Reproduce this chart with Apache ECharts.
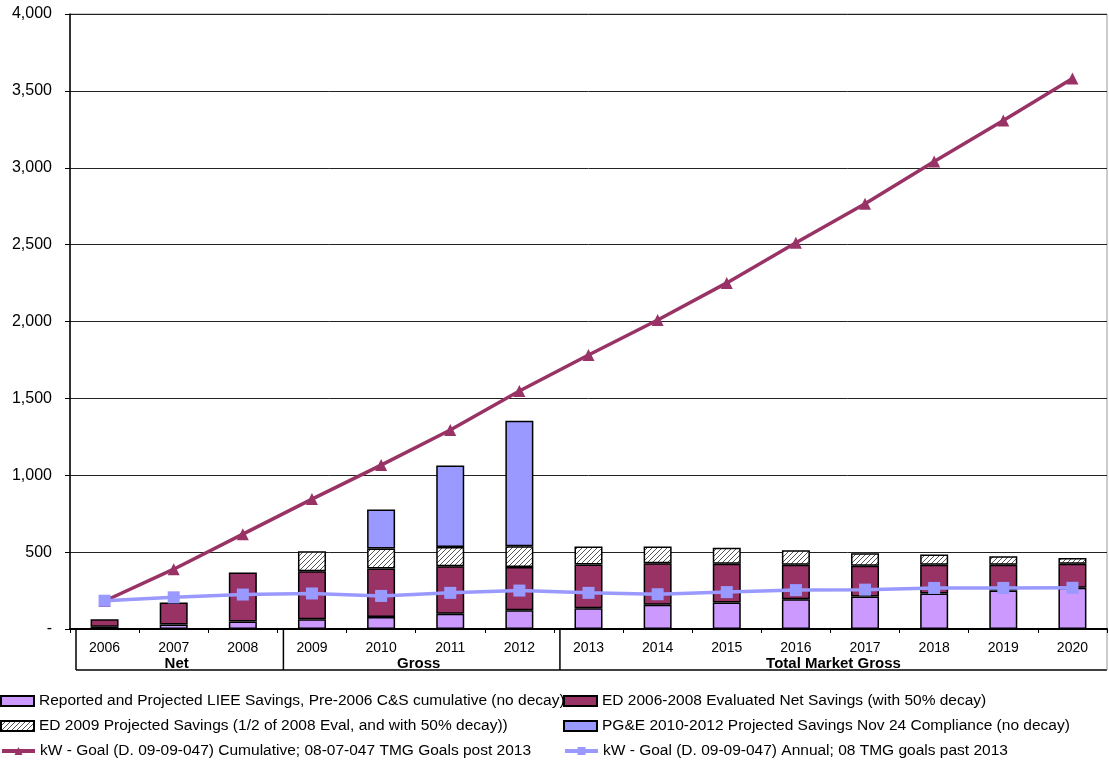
<!DOCTYPE html>
<html>
<head>
<meta charset="utf-8">
<script src="https://cdn.jsdelivr.net/npm/echarts@6/dist/echarts.min.js"></script>
<style>
html,body{margin:0;padding:0;background:#fff;}
#c{width:1109px;height:761px;}
</style>
</head>
<body>
<div id="c"></div>
<script>
var years = ['2006','2007','2008','2009','2010','2011','2012','2013','2014','2015','2016','2017','2018','2019','2020'];
var groupNames = ['Net','Gross','Total Market Gross'];
var groupSizes = [3,4,8];

var liee     = [15, 29, 48, 63, 78, 100, 122, 135, 158, 173, 194, 212, 231, 251, 268];
var edNet    = [48, 143, 319, 313, 315, 308, 282, 285, 269, 252, 224, 200, 187, 167, 157];
var ed2009   = [null, null, null, 130, 131, 126, 135, 117, 110, 104, 94, 80, 67, 55, 36];
var pge      = [null, null, null, null, 254, 530, 816, null, null, null, null, null, null, null, null];
var goalCum  = [182, 389, 617, 845, 1066, 1294, 1548, 1782, 2010, 2251, 2512, 2766, 3040, 3307, 3581];
var goalAnn  = [184, 206, 224, 231, 215, 235, 250, 235, 226, 240, 253, 256, 267, 267, 268];

var names = [
  'Reported and Projected LIEE Savings, Pre-2006 C&S cumulative (no decay)',
  'ED 2006-2008 Evaluated Net Savings (with 50% decay)',
  'ED 2009 Projected Savings (1/2 of 2008 Eval, and with 50% decay))',
  'PG&E 2010-2012 Projected Savings Nov 24 Compliance (no decay)',
  'kW - Goal (D. 09-09-047) Cumulative; 08-07-047 TMG Goals post 2013',
  'kW - Goal (D. 09-09-047) Annual; 08 TMG goals past 2013'
];

// hatch pattern
var pc = document.createElement('canvas');
pc.width = 5; pc.height = 5;
var pctx = pc.getContext('2d');
pctx.fillStyle = '#fff';
pctx.fillRect(0,0,5,5);
pctx.strokeStyle = '#555';
pctx.lineWidth = 1;
pctx.beginPath();
pctx.moveTo(-1,6); pctx.lineTo(6,-1);
pctx.moveTo(-1,1); pctx.lineTo(1,-1);
pctx.moveTo(4,6); pctx.lineTo(6,4);
pctx.stroke();

var FONT = '"Liberation Sans", Arial, sans-serif';
var chart = echarts.init(document.getElementById('c'));

function bar(i, data, color){
  return {type:'bar', stack:'s', barWidth:28, name:names[i], data:data,
    itemStyle:{color:color, borderColor:'#000', borderWidth:1.5}};
}

var legendPos = [[0,693],[563,693],[0,718],[563,718],[0,743],[563,743]];
var legends = names.map(function(n, i){
  var item = i < 4 ? {name:n, icon:'rect'} : {name:n, lineStyle:{width:4}};
  return {orient:'horizontal', left:legendPos[i][0], top:legendPos[i][1], padding:0,
    itemWidth:33, itemHeight:10, itemGap:0,
    textStyle:{fontSize:15.5, color:'#000', fontFamily:FONT},
    data:[item]};
});

var option = {
  animation:false,
  textStyle:{fontFamily:FONT},
  grid:{left:70, right:2, top:14, bottom:132, show:true, borderColor:'#999', borderWidth:1},
  xAxis:{type:'category', data:years,
    axisLine:{lineStyle:{color:'#000', width:2}},
    axisTick:{show:true, length:4, lineStyle:{color:'#000'}},
    axisLabel:{color:'#000', fontSize:14, fontFamily:FONT, margin:12}},
  yAxis:{type:'value', min:0, max:4000, interval:500,
    axisLine:{show:true, lineStyle:{color:'#000', width:1.5}},
    axisTick:{show:true, length:5, lineStyle:{color:'#000'}},
    axisLabel:{color:'#000', fontSize:16, fontFamily:FONT, margin:18,
      formatter:function(v){ return v===0 ? '-' : v.toLocaleString('en-US'); }},
    splitLine:{lineStyle:{color:'#222', width:1}}},
  legend:legends,
  series:[
    bar(0, liee, '#CC99FF'),
    bar(1, edNet, '#993366'),
    bar(2, ed2009, {image:pc, repeat:'repeat'}),
    bar(3, pge, '#9999FF'),
    {type:'line', name:names[4], data:goalCum, z:5, symbol:'triangle', symbolSize:12,
     lineStyle:{color:'#993366', width:3.5}, itemStyle:{color:'#993366'}},
    {type:'line', name:names[5], data:goalAnn, z:6, symbol:'rect', symbolSize:12,
     lineStyle:{color:'#9999FF', width:3.5}, itemStyle:{color:'#9999FF'}}
  ]
};
chart.setOption(option);

// group table under the category axis
function drawGroups(){
  var c0 = chart.convertToPixel({xAxisIndex:0}, years[0]);
  var c1 = chart.convertToPixel({xAxisIndex:0}, years[1]);
  var w = c1 - c0;
  var axisY = chart.convertToPixel({yAxisIndex:0}, 0);
  var bottomY = axisY + 41;
  var els = [];
  var start = 0;
  var rightX = chart.getWidth() - 2;
  var leftX = c0 - w/2 + 6;
  els.push({type:'line', shape:{x1:leftX, y1:axisY, x2:leftX, y2:bottomY}, style:{stroke:'#000', lineWidth:1.5}});
  els.push({type:'line', shape:{x1:leftX, y1:bottomY, x2:rightX, y2:bottomY}, style:{stroke:'#000', lineWidth:1.5}});
  els.push({type:'line', shape:{x1:rightX, y1:axisY, x2:rightX, y2:bottomY}, style:{stroke:'#999', lineWidth:1}});
  for (var g=0; g<groupNames.length; g++){
    var end = start + groupSizes[g];
    var cx = c0 + ((start + end - 1)/2) * w + 3;
    els.push({type:'text', x:cx, y:axisY+35, style:{text:groupNames[g], font:'bold 15px ' + FONT, fill:'#000', align:'center', verticalAlign:'middle'}});
    if (end < years.length){
      var sx = c0 + (end - 0.5) * w + 6;
      els.push({type:'line', shape:{x1:sx, y1:axisY, x2:sx, y2:bottomY}, style:{stroke:'#000', lineWidth:1.5}});
    }
    start = end;
  }
  chart.setOption({graphic:els});
}
drawGroups();
</script>
</body>
</html>
